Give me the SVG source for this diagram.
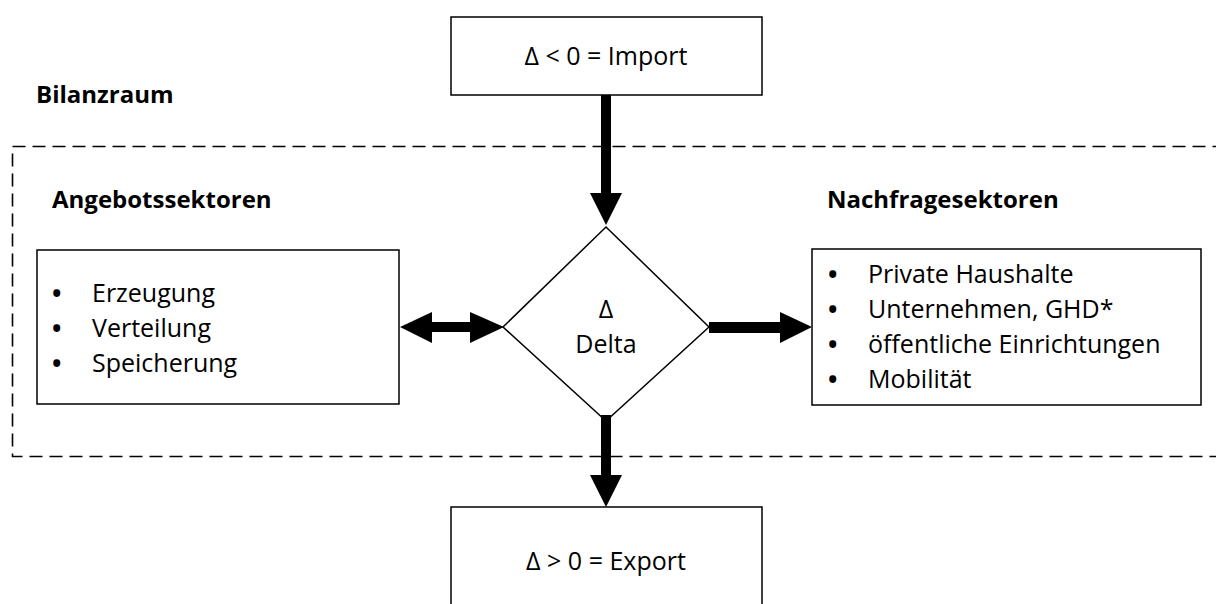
<svg xmlns="http://www.w3.org/2000/svg" width="1216" height="604" viewBox="0 0 1216 604">
<style>
.box{fill:#fff;stroke:#000;stroke-width:1.5}
.t{font-family:"Open Sans","Noto Sans",sans-serif;font-size:25px;fill:#000}
.bu{font-weight:bold}
.b{font-family:"Open Sans","Noto Sans",sans-serif;font-size:24px;font-weight:bold;fill:#000}
.arr{fill:#000;stroke:none}
</style>
<rect width="1216" height="604" fill="#fff"/>
<g id="bilanzraum">
<rect x="12.5" y="146.5" width="1230" height="310" fill="none" stroke="#000" stroke-width="1.6" stroke-dasharray="13 7"/>
<text class="b" x="36" y="103">Bilanzraum</text>
</g>
<g id="import">
<rect class="box" x="451" y="17" width="311" height="78"/>
<text class="t" x="606" y="65" text-anchor="middle">Δ &lt; 0 = Import</text>
</g>
<g id="angebot">
<text class="b" x="52" y="208">Angebotssektoren</text>
<rect class="box" x="37" y="250" width="362" height="154"/>
<text class="t" y="302"><tspan class="bu" x="52">•</tspan><tspan x="92">Erzeugung</tspan></text>
<text class="t" y="337"><tspan class="bu" x="52">•</tspan><tspan x="92">Verteilung</tspan></text>
<text class="t" y="372"><tspan class="bu" x="52">•</tspan><tspan x="92">Speicherung</tspan></text>
</g>
<g id="delta">
<polygon class="box" points="606,227 709,327 606,421 503,327"/>
<text class="t" x="606" y="318" text-anchor="middle">Δ</text>
<text class="t" x="606" y="353" text-anchor="middle">Delta</text>
</g>
<g id="nachfrage">
<text class="b" x="827" y="208">Nachfragesektoren</text>
<rect class="box" x="812" y="249" width="389" height="156"/>
<text class="t" y="283"><tspan class="bu" x="828">•</tspan><tspan x="868">Private Haushalte</tspan></text>
<text class="t" y="318"><tspan class="bu" x="828">•</tspan><tspan x="868">Unternehmen, GHD*</tspan></text>
<text class="t" y="353"><tspan class="bu" x="828">•</tspan><tspan x="868">öffentliche Einrichtungen</tspan></text>
<text class="t" y="388"><tspan class="bu" x="828">•</tspan><tspan x="868">Mobilität</tspan></text>
</g>
<g id="export">
<rect class="box" x="451" y="507" width="311" height="110"/>
<text class="t" x="606" y="570" text-anchor="middle">Δ &gt; 0 = Export</text>
</g>
<g id="connectors">
<polygon class="arr" points="601,95 611,95 611,193 622,193 606,225 590,193 601,193"/>
<polygon class="arr" points="601,415 611,415 611,475 622,475 606,507 590,475 601,475"/>
<polygon class="arr" points="400,327 432,312 432,322 470,322 470,312 504,327 470,343 470,332 432,332 432,343"/>
<polygon class="arr" points="709,322 780,322 780,312 812,327 780,343 780,333 709,333"/>
</g>
</svg>
